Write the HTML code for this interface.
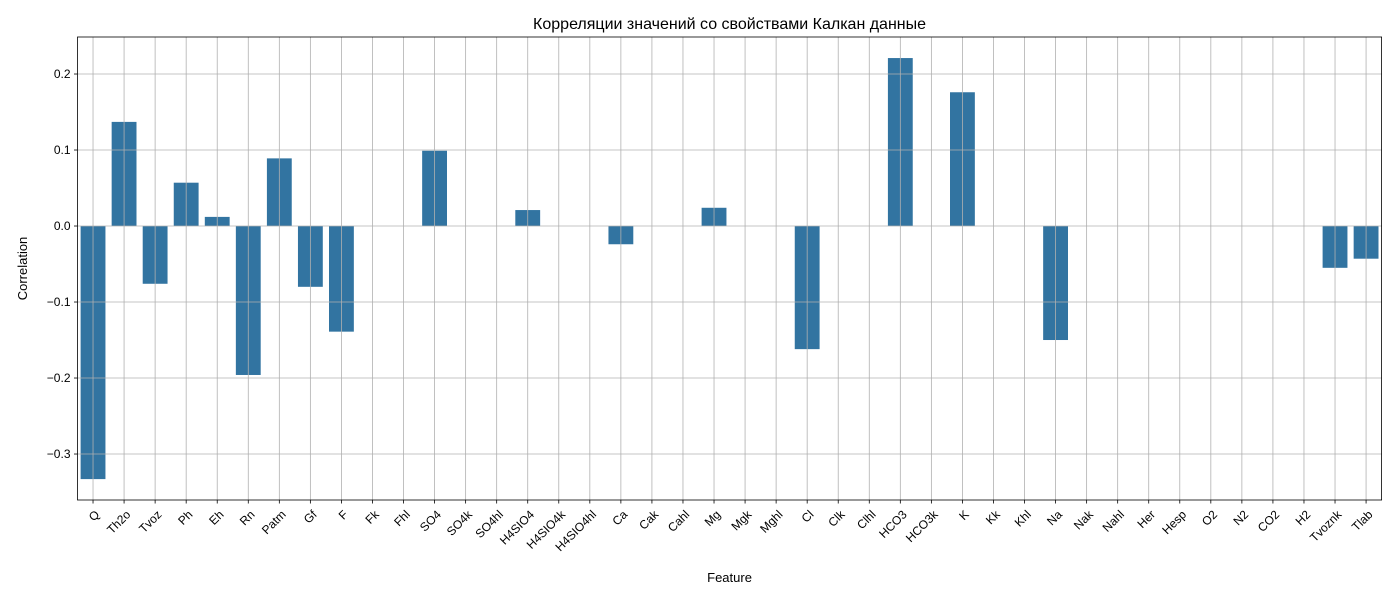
<!DOCTYPE html>
<html><head><meta charset="utf-8"><style>
body{margin:0;background:#fff;}
svg{display:block;font-family:"Liberation Sans","DejaVu Sans",sans-serif;}
</style></head><body>
<svg id="chart" width="1400" height="600"></svg>
<script>
const categories=["Q","Th2o","Tvoz","Ph","Eh","Rn","Patm","Gf","F","Fk","Fhl","SO4","SO4k","SO4hl","H4SIO4","H4SIO4k","H4SIO4hl","Ca","Cak","Cahl","Mg","Mgk","Mghl","Cl","Clk","Clhl","HCO3","HCO3k","K","Kk","Khl","Na","Nak","Nahl","Her","Hesp","O2","N2","CO2","H2","Tvoznk","Tlab"];
const values=[-0.333,0.137,-0.076,0.057,0.012,-0.196,0.089,-0.080,-0.139,null,null,0.099,null,null,0.021,null,null,-0.024,null,null,0.024,null,null,-0.162,null,null,0.221,null,0.176,null,null,-0.150,null,null,null,null,null,null,null,null,-0.055,-0.043];
const yTicks=[-0.3,-0.2,-0.1,0,0.1,0.2];
const yTickLabels=["\u22120.3","\u22120.2","\u22120.1","0.0","0.1","0.2"];
const NS="http://www.w3.org/2000/svg";
const svg=document.getElementById("chart");
const L=77.5,R=1381.6,T=37,B=500,yMin=-0.3605,yMax=0.2487;
const band=(R-L)/categories.length;
function xc(i){return L+band*(i+0.5);}
function y(v){return B-(v-yMin)/(yMax-yMin)*(B-T);}
function mk(tag,attrs,text){const e=document.createElementNS(NS,tag);for(const k in attrs)e.setAttribute(k,attrs[k]);if(text!==undefined)e.textContent=text;svg.appendChild(e);return e;}
values.forEach((v,i)=>{
  if(v===null)return;
  const r=mk("rect",{x:xc(i)-band*0.4,y:Math.min(y(v),y(0)),width:band*0.8,height:Math.abs(y(v)-y(0)),fill:"#3274a1"});
  
  
});
categories.forEach((c,i)=>{
  const g=mk("line",{x1:xc(i),x2:xc(i),y1:T,y2:B,stroke:"#b0b0b0","stroke-width":0.8});
  
  
  const t=mk("line",{x1:xc(i),x2:xc(i),y1:B,y2:B+3.5,stroke:"#000","stroke-width":0.8});
  
  
  const lx=xc(i)+1,ly=B+9;
  const l=mk("text",{x:lx,y:ly,"font-size":12,"text-anchor":"end","dominant-baseline":"hanging",transform:`rotate(-45 ${lx} ${ly})`},c);
  
  
});
yTicks.forEach((v,i)=>{
  const g=mk("line",{x1:L,x2:R,y1:y(v),y2:y(v),stroke:"#b0b0b0","stroke-width":0.8});
  
  
  const t=mk("line",{x1:L-3.5,x2:L,y1:y(v),y2:y(v),stroke:"#000","stroke-width":0.8});
  
  
  const l=mk("text",{x:L-7,y:y(v)+4,"font-size":12,"text-anchor":"end"},yTickLabels[i]);
  
  
});
const fr=mk("rect",{x:L,y:T,width:R-L,height:B-T,fill:"none",stroke:"#000","stroke-width":0.8});


const ti=mk("text",{x:(L+R)/2,y:29,"font-size":16,"text-anchor":"middle"},"Корреляции значений со свойствами Калкан данные");


const xt=mk("text",{x:(L+R)/2,y:582,"font-size":13,"text-anchor":"middle"},"Feature");


const yt=mk("text",{x:27,y:(T+B)/2,"font-size":13,"text-anchor":"middle",transform:`rotate(-90 27 ${(T+B)/2})`},"Correlation");


</script>
</body></html>
